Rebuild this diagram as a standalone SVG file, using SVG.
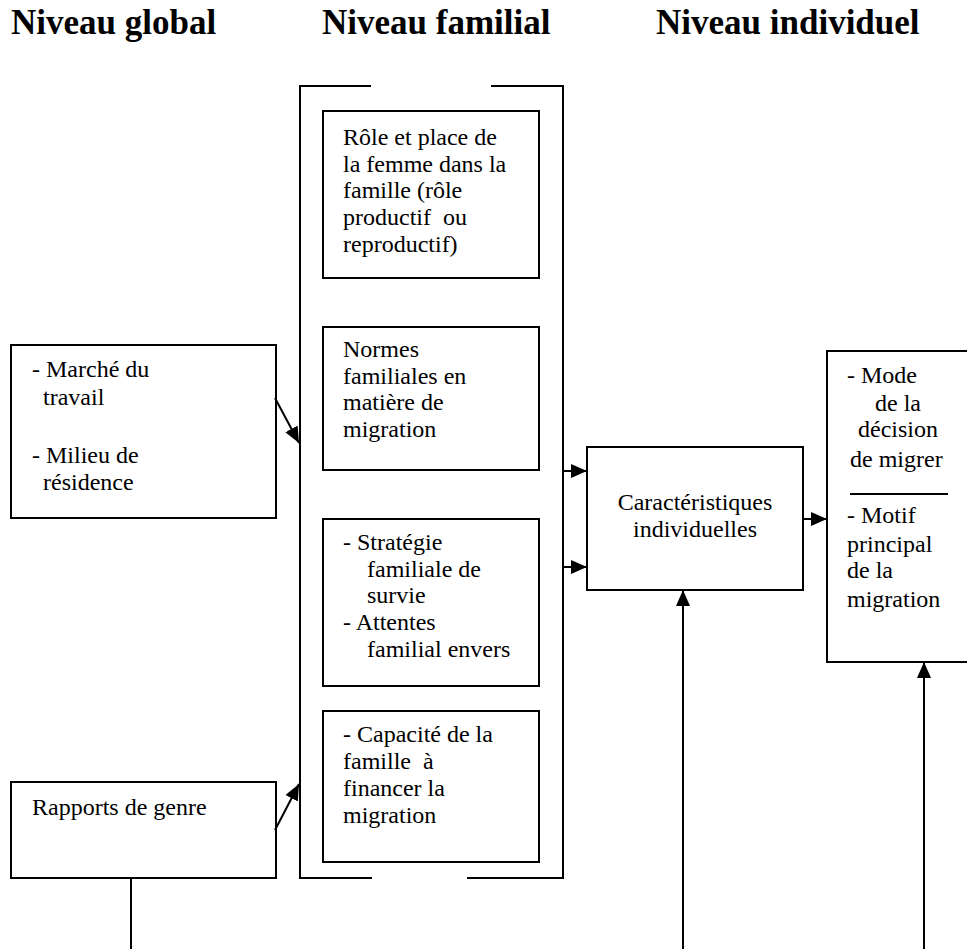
<svg xmlns="http://www.w3.org/2000/svg" width="967" height="949" viewBox="0 0 967 949">
<style>
text{font-family:"Liberation Serif","Times New Roman",serif;font-size:24px;fill:#000}
.h{font-weight:bold;font-size:35px}
.box{fill:#fff;stroke:#000;stroke-width:2}
.ln{fill:none;stroke:#000;stroke-width:2}
.c{text-anchor:middle}
</style>
<defs>
<marker id="ah" viewBox="0 0 16 14" refX="16" refY="7" markerWidth="16" markerHeight="14" markerUnits="userSpaceOnUse" orient="auto">
<path d="M0,0 L16,7 L0,14 z" fill="#000"/>
</marker>
</defs>
<rect width="967" height="949" fill="#fff"/>
<g id="headers">
<text class="h" x="11" y="34">Niveau global</text>
<text class="h" x="322" y="34">Niveau familial</text>
<text class="h" x="656" y="34">Niveau individuel</text>
</g>
<g id="bracket">
<path class="ln" d="M371,86 H300 V878 H372 M467,878 H563 V86 H491"/>
</g>
<g id="role">
<rect class="box" x="323" y="111" width="216" height="167"/>
<text x="343" y="145">Rôle et place de</text>
<text x="343" y="172">la femme dans la</text>
<text x="343" y="198">famille (rôle</text>
<text x="343" y="225" xml:space="preserve">productif  ou</text>
<text x="343" y="252">reproductif)</text>
</g>
<g id="normes">
<rect class="box" x="323" y="327" width="216" height="143"/>
<text x="343" y="357">Normes</text>
<text x="343" y="384">familiales en</text>
<text x="343" y="410">matière de</text>
<text x="343" y="437">migration</text>
</g>
<g id="strategie">
<rect class="box" x="323" y="519" width="216" height="167"/>
<text x="343" y="550">- Stratégie</text>
<text x="367" y="577">familiale de</text>
<text x="367" y="603">survie</text>
<text x="343" y="630">- Attentes</text>
<text x="367" y="657">familial envers</text>
</g>
<g id="capacite">
<rect class="box" x="323" y="711" width="216" height="151"/>
<text x="343" y="742">- Capacité de la</text>
<text x="343" y="769" xml:space="preserve">famille  à</text>
<text x="343" y="796">financer la</text>
<text x="343" y="823">migration</text>
</g>
<g id="marche">
<rect class="box" x="11" y="345" width="265" height="173"/>
<text x="32" y="377">- Marché du</text>
<text x="43" y="405">travail</text>
<text x="32" y="463">- Milieu de</text>
<text x="43" y="490">résidence</text>
</g>
<g id="rapports">
<rect class="box" x="11" y="782" width="265" height="96"/>
<text x="32" y="815">Rapports de genre</text>
</g>
<g id="caracteristiques">
<rect class="box" x="587" y="447" width="216" height="143"/>
<text class="c" x="695" y="510">Caractéristiques</text>
<text class="c" x="695" y="537">individuelles</text>
</g>
<g id="mode">
<rect class="box" x="827" y="351" width="160" height="311"/>
<text x="847" y="383">- Mode</text>
<text x="875" y="411">de la</text>
<text x="858" y="437">décision</text>
<text x="850" y="467">de migrer</text>
<line class="ln" x1="850" y1="494" x2="948" y2="494"/>
<text x="847" y="523">- Motif</text>
<text x="847" y="552">principal</text>
<text x="847" y="578">de la</text>
<text x="847" y="607">migration</text>
</g>
<g id="connectors" class="ln" marker-end="url(#ah)">
<line x1="275" y1="398" x2="299" y2="443"/>
<line x1="275" y1="830" x2="299" y2="784"/>
<line x1="563" y1="471" x2="587" y2="471"/>
<line x1="563" y1="567" x2="587" y2="567"/>
<line x1="803" y1="519" x2="827" y2="519"/>
<line x1="683" y1="949" x2="683" y2="590"/>
<line x1="924" y1="949" x2="924" y2="662"/>
<line x1="131" y1="878" x2="131" y2="949" marker-end="none"/>
</g>
</svg>
